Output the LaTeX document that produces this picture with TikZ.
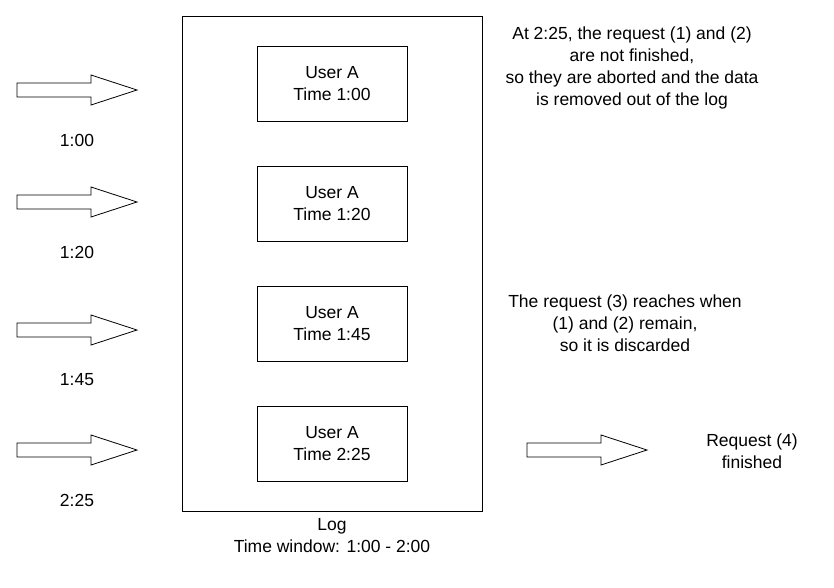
\documentclass[tikz,border=0pt]{standalone}
\usepackage{fontspec}
\setmainfont{Liberation Sans}
\usetikzlibrary{positioning}
\tikzset{
	entry/.style={draw,thick,minimum width=150pt,minimum height=75pt,align=center,font=\fontsize{17.5}{22}\selectfont},
	note/.style={align=center,font=\fontsize{17.5}{22}\selectfont},
	pics/blockarrow/.style={code={
		\draw [thick,fill=white] (0,-7) -- (74,-7) -- (74,-15) -- (120,0) -- (74,15) -- (74,7) -- (0,7) -- cycle;
	}}
}
\begin{document}
\begin{tikzpicture}[x=1pt,y=-1pt]
		\useasboundingbox (0,0) rectangle (834,587);
		% log
			\node [draw,thick,minimum width=300pt,minimum height=495pt] (log) at (332,263.5) {};
			\node [note,below=4pt of log] (caption) {Log\\Time window: 1:00 - 2:00};
		% entries
			\node [entry] (e1) at (332,83.5) {User A\\Time 1:00};
			\node [entry] (e2) at (332,203.5) {User A\\Time 1:20};
			\node [entry] (e3) at (332,323.5) {User A\\Time 1:45};
			\node [entry] (e4) at (332,443.5) {User A\\Time 2:25};
		% requests
			\foreach \y/\t in {90/1:00,202/1:20,330/1:45,450/2:25}{
				\pic at (17,\y) {blockarrow};
				\node [note] (t\y) at (77,\y+50) {\t};
			}
			\pic at (527,450) {blockarrow};
		% notes
			\node [note] (n1) at (632,68) {At 2:25, the request (1) and (2)\\are not finished,\\so they are aborted and the data\\is removed out of the log};
			\node [note] (n2) at (625,323) {The request (3) reaches when\\(1) and (2) remain,\\so it is discarded};
			\node [note] (n3) at (752,451) {Request (4)\\finished};
	\end{tikzpicture}
\end{document}
